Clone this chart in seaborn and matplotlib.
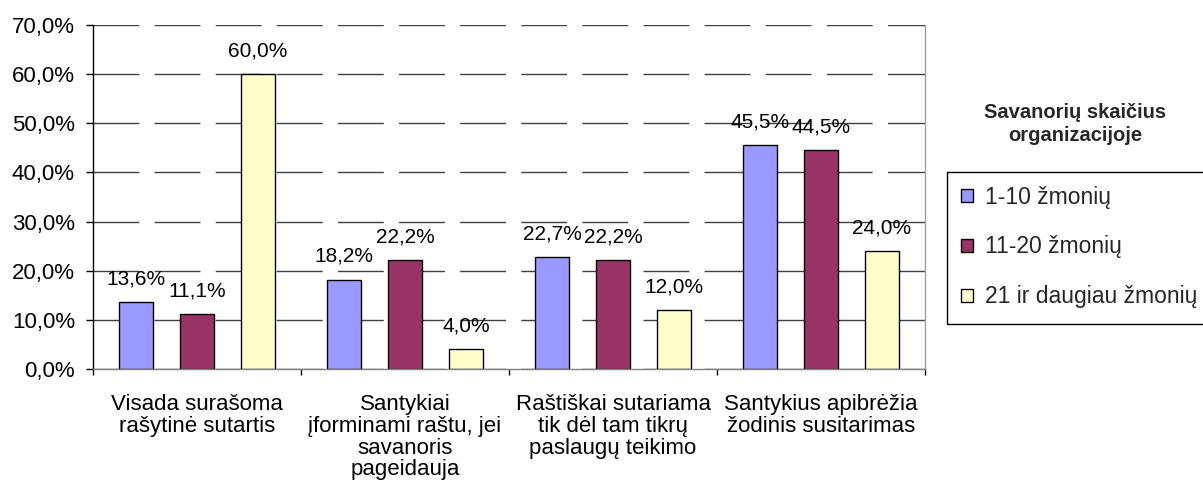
import matplotlib
matplotlib.use("Agg")
import matplotlib.pyplot as plt
import matplotlib.patches as mpatches
from matplotlib.ticker import FuncFormatter, FixedLocator
import seaborn as sns
import pandas as pd

categories = [
    "Visada surašoma\nrašytinė sutartis",
    "Santykiai\nįforminami raštu, jei\nsavanoris\npageidauja",
    "Raštiškai sutariama\ntik dėl tam tikrų\npaslaugų teikimo",
    "Santykius apibrėžia\nžodinis susitarimas",
]
series_names = ["1-10 žmonių", "11-20 žmonių", "21 ir daugiau žmonių"]
vals_1_10 = [13.6, 18.2, 22.7, 45.5]
vals_11_20 = [11.1, 22.2, 22.2, 44.5]
vals_21_plus = [60.0, 4.0, 12.0, 24.0]
colors = ["#9999FF", "#993366", "#FFFFCC"]
legend_title = "Savanorių skaičius\norganizacijoje"
y_ticks = [0, 10, 20, 30, 40, 50, 60, 70]

rows = []
for name, vals in zip(series_names, [vals_1_10, vals_11_20, vals_21_plus]):
    for cat, v in zip(categories, vals):
        rows.append({"category": cat, "series": name, "value": v})
df = pd.DataFrame(rows)

sns.set_theme(style="white")
plt.rcParams["font.family"] = ["Liberation Sans", "DejaVu Sans"]
FS_TICK = 16
FS_LABEL = 15
FS_LEG = 16.5

fig = plt.figure(figsize=(12.03, 5.0), dpi=100)
ax = fig.add_axes([93 / 1203, 1 - 369 / 500, (925 - 93) / 1203, (369 - 25) / 500])

sns.barplot(
    data=df, x="category", y="value", hue="series",
    order=categories, hue_order=series_names, palette=colors,
    width=0.88, gap=0.43, edgecolor="black", linewidth=1.0,
    errorbar=None, legend=False, ax=ax, saturation=1,
)

fmt = lambda v: f"{v:.1f}".replace(".", ",") + "%"
for cont in ax.containers:
    ax.bar_label(cont, labels=[fmt(b.get_height()) for b in cont],
                 padding=10, fontsize=FS_LABEL, color="black")

ax.set_ylim(0, 70)
ax.set_xlim(-0.5, 3.5)
ax.set_yticks(y_ticks)
ax.yaxis.set_major_formatter(FuncFormatter(lambda v, p: f"{v:.1f}".replace(".", ",") + "%"))
ax.set_xlabel("")
ax.set_ylabel("")

ax.yaxis.grid(True, color="#404040", linewidth=1.0, linestyle=(0, (33, 11)))
ax.xaxis.grid(False)
ax.set_axisbelow(True)

ax.spines["top"].set_visible(False)
ax.spines["left"].set_color("black")
ax.spines["left"].set_linewidth(1.0)
ax.spines["bottom"].set_color("#808080")
ax.spines["bottom"].set_linewidth(1.0)
ax.spines["right"].set_color("#a0a0a0")
ax.spines["right"].set_linewidth(1.0)

ax.tick_params(axis="y", which="major", direction="out", length=5, width=1,
               color="black", left=True, labelsize=FS_TICK, pad=8, labelcolor="black")
ax.tick_params(axis="x", which="major", length=0, labelsize=FS_TICK, pad=18, labelcolor="black")
ax.xaxis.set_minor_locator(FixedLocator([-0.5, 0.5, 1.5, 2.5, 3.5]))
ax.tick_params(axis="x", which="minor", direction="out", length=4.5, width=1,
               color="black", bottom=True)
for lbl in ax.get_xticklabels():
    lbl.set_linespacing(1.05)

# legend
handles = [mpatches.Patch(facecolor=c, edgecolor="black", linewidth=1.0, label=n)
           for c, n in zip(colors, series_names)]
fig.legend(handles=handles, loc="center left",
           bbox_to_anchor=(961 / 1203, 1 - 247 / 500),
           frameon=False, fontsize=FS_LEG, handlelength=0.52, handleheight=0.52,
           handletextpad=0.52, labelspacing=1.17, borderpad=0, borderaxespad=0)
box = mpatches.Rectangle((947 / 1203, 1 - 324 / 500), 0.3, 152 / 500,
                         transform=fig.transFigure, fill=False,
                         edgecolor="black", linewidth=1.0, clip_on=False)
fig.patches.append(box)
fig.text(1075 / 1203, 1 - 124 / 500, legend_title, ha="center", va="center",
         fontsize=14.5, fontweight="bold", linespacing=1.3)

fig.savefig("out.png", dpi=100)
